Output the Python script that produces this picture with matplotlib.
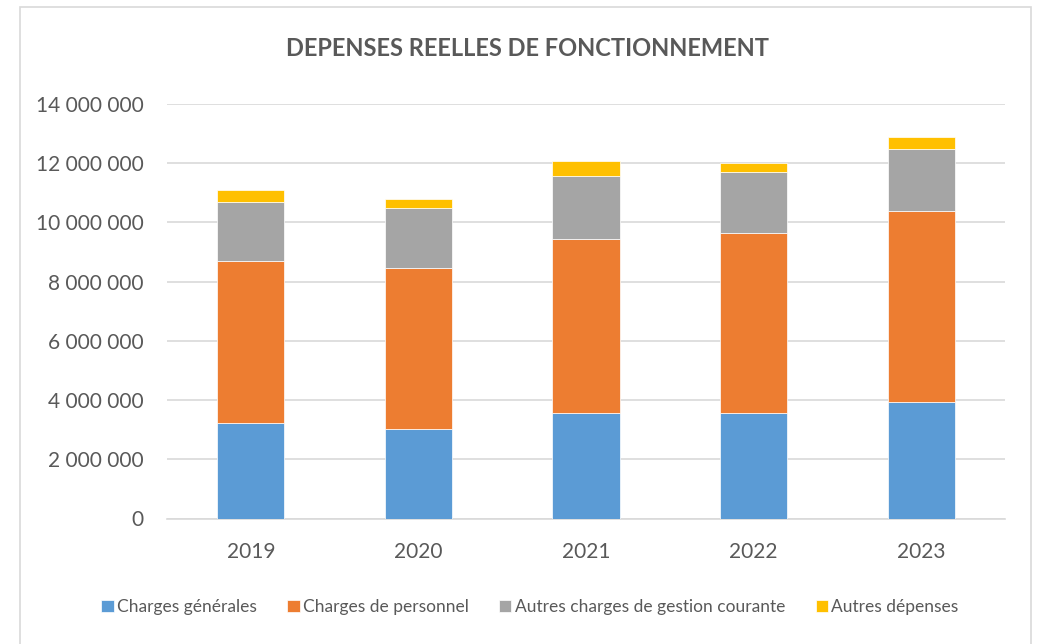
import matplotlib
matplotlib.use("Agg")
import matplotlib.pyplot as plt
from matplotlib.patches import Rectangle
from matplotlib.ticker import FuncFormatter, MultipleLocator
import numpy as np

years = ["2019", "2020", "2021", "2022", "2023"]
charges_generales = [3230000, 3010000, 3550000, 3550000, 3950000]
charges_personnel = [5460000, 5440000, 5880000, 6080000, 6430000]
autres_gestion = [2000000, 2050000, 2150000, 2090000, 2100000]
autres_depenses = [410000, 290000, 500000, 280000, 410000]

series = [
    ("Charges générales", charges_generales, "#5B9BD5"),
    ("Charges de personnel", charges_personnel, "#ED7D31"),
    ("Autres charges de gestion courante", autres_gestion, "#A5A5A5"),
    ("Autres dépenses", autres_depenses, "#FFC000"),
]

plt.rcParams['font.family'] = ['Lato', 'DejaVu Sans']
txt = "#595959"

fig = plt.figure(figsize=(10.4, 6.44), dpi=100)
fig.patches.append(Rectangle((20/1040, -0.01), (1031-20)/1040, (644-7)/644 + 0.01,
                             transform=fig.transFigure, fill=False, edgecolor="#D9D9D9", lw=1.2))
ax = fig.add_axes([167/1040, 1-518.5/644, (1005-167)/1040, (518.5-104)/644])

x = np.arange(len(years))
bottom = np.zeros(len(years))
for name, vals, col in series:
    ax.bar(x, vals, 0.4, bottom=bottom, color=col, label=name, edgecolor="white", linewidth=0.5, zorder=3)
    bottom += np.array(vals)

ax.set_xlim(-0.5, len(years) - 0.5)
ax.set_ylim(0, 14000000)
ax.yaxis.set_major_locator(MultipleLocator(2000000))
ax.yaxis.set_major_formatter(FuncFormatter(lambda v, p: f"{int(v):,}".replace(",", " ")))
ax.set_xticks(x)
ax.set_xticklabels(years)
ax.grid(axis="y", color="#D9D9D9", lw=1.2, zorder=0)
for s in ["top", "right", "left"]:
    ax.spines[s].set_visible(False)
ax.spines["bottom"].set_color("#D9D9D9")
ax.spines["bottom"].set_linewidth(1.2)
ax.tick_params(axis="both", length=0, labelsize=15, colors=txt)
ax.tick_params(axis="y", pad=17)
ax.tick_params(axis="x", pad=17)

fig.text(527/1040, 1-48/644, "DEPENSES REELLES DE FONCTIONNEMENT", ha="center", va="center",
         fontsize=17, fontweight="bold", color=txt)

leg = fig.legend(loc="center", bbox_to_anchor=(530/1040, 1-607/644), ncol=4, frameon=False,
                 fontsize=12.5, handlelength=0.7, handleheight=0.7, handletextpad=0.2, columnspacing=1.75)
for t in leg.get_texts():
    t.set_color(txt)

fig.savefig("out.png", dpi=100)
